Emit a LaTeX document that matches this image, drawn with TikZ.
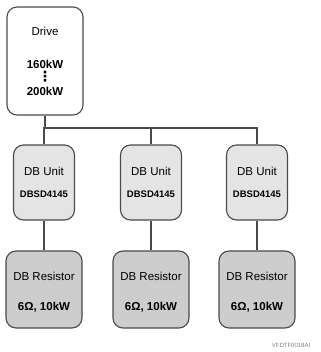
\documentclass[tikz,border=0pt]{standalone}
\usepackage{fontspec}
\setmainfont{Liberation Sans}
\newfontfamily\symfont{DejaVu Sans}
\definecolor{boxline}{HTML}{4A4A4A}
\definecolor{unitgray}{HTML}{E4E4E4}
\definecolor{resgray}{HTML}{CDCDCD}
\begin{document}
\begin{tikzpicture}[x=1pt,y=-1pt]

        \useasboundingbox (0,0) rectangle (320,352);

        \begin{scope}[every node/.style={draw=boxline, line width=1.1pt, rounded corners=10pt,
            align=center, inner sep=0pt, font=\fontsize{11.5}{13}\selectfont}]
          \node[minimum width=76pt, minimum height=108pt] (drive) at (45,61)
            {Drive\\[20pt]\textbf{160kW}\\[0pt]{\symfont\bfseries\fontsize{14}{14}\selectfont ⋮}\\[1pt]\textbf{200kW}};

          \begin{scope}[every node/.append style={fill=unitgray, minimum width=61pt, minimum height=75pt}]
            \node (unit1) at (44,182.5)  {DB Unit\\[9pt]{\fontsize{9.5}{11}\selectfont\bfseries DBSD4145}};
            \node (unit2) at (151,182.5) {DB Unit\\[9pt]{\fontsize{9.5}{11}\selectfont\bfseries DBSD4145}};
            \node (unit3) at (257,182.5) {DB Unit\\[9pt]{\fontsize{9.5}{11}\selectfont\bfseries DBSD4145}};
          \end{scope}

          \begin{scope}[every node/.append style={fill=resgray, minimum width=76pt, minimum height=77pt}]
            \node (res1) at (44,289.5)  {\rule{0pt}{14pt}DB Resistor\\[17pt]\textbf{6Ω, 10kW}};
            \node (res2) at (151,289.5) {\rule{0pt}{14pt}DB Resistor\\[17pt]\textbf{6Ω, 10kW}};
            \node (res3) at (257,289.5) {\rule{0pt}{14pt}DB Resistor\\[17pt]\textbf{6Ω, 10kW}};
          \end{scope}
        \end{scope}

        \coordinate (bus) at (0,128);

        \begin{scope}[draw=boxline, line width=1.1pt]
          \foreach \i in {1,2,3} {
            \draw (drive.south) -- (drive.south |- bus) -| (unit\i.north);
            \draw (unit\i) -- (res\i);
          }
        \end{scope}

        \node[font=\fontsize{6}{7}\selectfont, text=gray] (tag) at (291,345) {VFDTF0018AI};

      \end{tikzpicture}
\end{document}
